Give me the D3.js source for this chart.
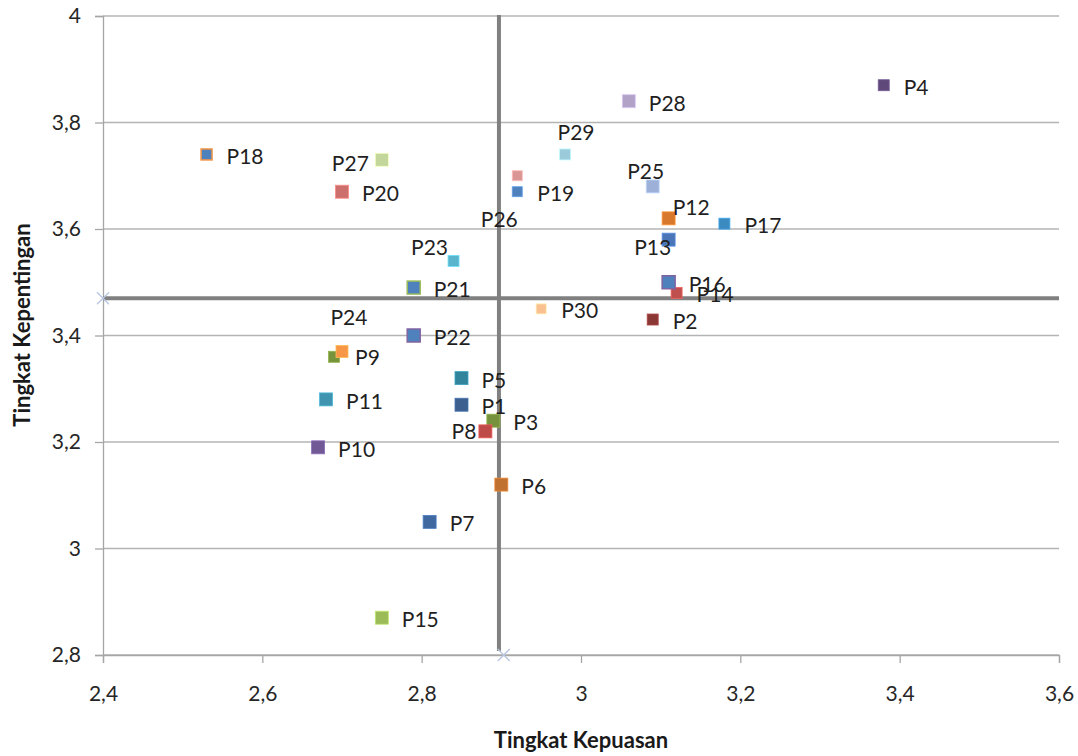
<!DOCTYPE html>
<html>
<head>
<meta charset="utf-8">
<script src="https://cdn.jsdelivr.net/npm/d3@7"></script>
<style>
  body { margin: 0; background: #fff; }
  svg { display: block; font-family: Lato, "Open Sans", sans-serif; }
</style>
</head>
<body>
<svg id="chart"></svg>
<script>
// data
const names = ["P1","P2","P3","P4","P5","P6","P7","P8","P9","P10",
               "P11","P12","P13","P14","P15","P16","P17","P18","P19","P20",
               "P21","P22","P23","P24","P25","P26","P27","P28","P29","P30"];
const kepuasan = [2.85, 3.09, 2.89, 3.38, 2.85, 2.90, 2.81, 2.88, 2.69, 2.67,
                  2.68, 3.11, 3.11, 3.12, 2.75, 3.11, 3.18, 2.53, 2.92, 2.70,
                  2.79, 2.79, 2.84, 2.70, 3.09, 2.92, 2.75, 3.06, 2.98, 2.95];
const kepentingan = [3.27, 3.43, 3.24, 3.87, 3.32, 3.12, 3.05, 3.22, 3.36, 3.19,
                     3.28, 3.62, 3.58, 3.48, 2.87, 3.50, 3.61, 3.74, 3.67, 3.67,
                     3.49, 3.40, 3.54, 3.37, 3.68, 3.70, 3.73, 3.84, 3.74, 3.45];
const meanX = 2.897, meanY = 3.47;
const xTicks = [2.4, 2.6, 2.8, 3.0, 3.2, 3.4, 3.6];
const yTicks = [2.8, 3.0, 3.2, 3.4, 3.6, 3.8, 4.0];

// marker styles
const fills = ["#3c5f8f","#8c3836","#76923c","#5f497a","#31849b","#c0712f","#3f67a0","#be4b48","#77933c","#705995",
               "#3f95b0","#d8782d","#4a76b8","#c0504d","#9bbb59","#4f81bd","#3b8ac0","#4f81bd","#4f81bd","#cd706d",
               "#4f81bd","#4f81bd","#5ab5cc","#f79646","#9db1d8","#d99694","#c3d69b","#b2a2c7","#9bcbdb","#fac090"];
const borders = {P16: "#8064a2", P18: "#f79646", P21: "#9bbb59", P22: "#8064a2"};
const sizes = {P2: 11, P4: 11, P14: 11, P17: 11, P18: 11, P19: 10, P26: 10, P29: 11, P30: 10, P23: 11, P9: 11, P24: 12};
// label placement relative to marker: [dx, dy, anchor]
const labelPos = {
  P27: [-13, 4, "end"], P26: [-18, 44, "middle"], P23: [-24, -14, "middle"],
  P24: [7, -34, "middle"], P29: [11, -22, "middle"], P25: [-7, -15, "middle"],
  P12: [4, -11, "start"], P13: [-16, 8, "middle"], P8: [-9, 0, "end"],
  P9: [21, 1, "start"]
};

const width = 1078, height = 756;
const svg = d3.select("#chart").attr("width", width).attr("height", height);

const x = d3.scaleLinear().domain([2.4, 3.6]).range([103, 1059]);
const y = d3.scaleLinear().domain([2.8, 4.0]).range([655, 16]);
const fmt = d => d3.format("~g")(+d.toFixed(1)).replace(".", ",");

// horizontal gridlines
svg.append("g").selectAll("line")
    .data(yTicks)
    .enter().append("line")
    .attr("x1", x(2.4)).attr("x2", x(3.6))
    .attr("y1", d => y(d)).attr("y2", d => y(d))
    .attr("stroke", "#b4b4b4").attr("stroke-width", 1.3);

const yAxis = svg.append("g")
    .attr("transform", `translate(${x(2.4)},0)`)
    .call(d3.axisLeft(y).tickValues(yTicks).tickFormat(fmt).tickSize(8).tickPadding(14));
const xAxis = svg.append("g")
    .attr("transform", `translate(0,${y(2.8)})`)
    .call(d3.axisBottom(x).tickValues(xTicks).tickFormat(fmt).tickSize(8).tickPadding(23));

[xAxis, yAxis].forEach(g => {
  g.select(".domain").attr("stroke", "#a6a6a6").attr("stroke-width", 1.3);
  g.selectAll(".tick line").attr("stroke", "#a6a6a6").attr("stroke-width", 1.3);
  g.selectAll(".tick text").attr("font-size", 21).attr("fill", "#262626")
    .attr("font-family", "Lato, 'Open Sans', sans-serif");
});

// quadrant lines (means)
svg.append("line")
    .attr("x1", x(meanX)).attr("x2", x(meanX))
    .attr("y1", y(4.0) - 1).attr("y2", y(2.8) - 4)
    .attr("stroke", "#808080").attr("stroke-width", 4);
svg.append("line")
    .attr("x1", x(2.4)).attr("x2", x(3.6))
    .attr("y1", y(meanY)).attr("y2", y(meanY))
    .attr("stroke", "#808080").attr("stroke-width", 4);

// small cross markers at the line ends
const crosses = [[2.4, meanY], [2.903, 2.8]];
crosses.forEach(c => {
  const cx = x(c[0]), cy = y(c[1]);
  svg.append("path")
    .attr("d", `M${cx-6},${cy-6}L${cx+6},${cy+6}M${cx-6},${cy+6}L${cx+6},${cy-6}`)
    .attr("stroke", "#b8c6e2").attr("stroke-width", 1.3).attr("fill", "none");
});

// points
const pts = names.map((n, i) => ({name: n, kx: kepuasan[i], ky: kepentingan[i], fill: fills[i]}));

svg.append("g").selectAll("rect")
    .data(pts)
    .enter().append("rect")
    .attr("x", d => x(d.kx) - (sizes[d.name] || 13) / 2)
    .attr("y", d => y(d.ky) - (sizes[d.name] || 13) / 2)
    .attr("width", d => sizes[d.name] || 13)
    .attr("height", d => sizes[d.name] || 13)
    .attr("fill", d => d.fill)
    .attr("stroke", d => borders[d.name] || d3.color(d.fill).brighter(0.6))
    .attr("stroke-width", d => borders[d.name] ? 1.5 : 0.8);

svg.append("g").selectAll("text")
    .data(pts)
    .enter().append("text")
    .attr("x", d => x(d.kx) + (labelPos[d.name] ? labelPos[d.name][0] : 20))
    .attr("y", d => y(d.ky) + (labelPos[d.name] ? labelPos[d.name][1] : 2))
    .attr("dy", "0.36em")
    .attr("text-anchor", d => labelPos[d.name] ? labelPos[d.name][2] : "start")
    .attr("font-size", 21)
    .attr("fill", "#1f1f1f")
    .text(d => d.name);

// axis titles
svg.append("text")
    .attr("x", 581).attr("y", 748)
    .attr("text-anchor", "middle")
    .attr("font-size", 22).attr("font-weight", "bold").attr("fill", "#1a1a1a")
    .text("Tingkat Kepuasan");
svg.append("text")
    .attr("transform", "translate(30,325) rotate(-90)")
    .attr("text-anchor", "middle")
    .attr("font-size", 22).attr("font-weight", "bold").attr("fill", "#1a1a1a")
    .text("Tingkat Kepentingan");
</script>
</body>
</html>
